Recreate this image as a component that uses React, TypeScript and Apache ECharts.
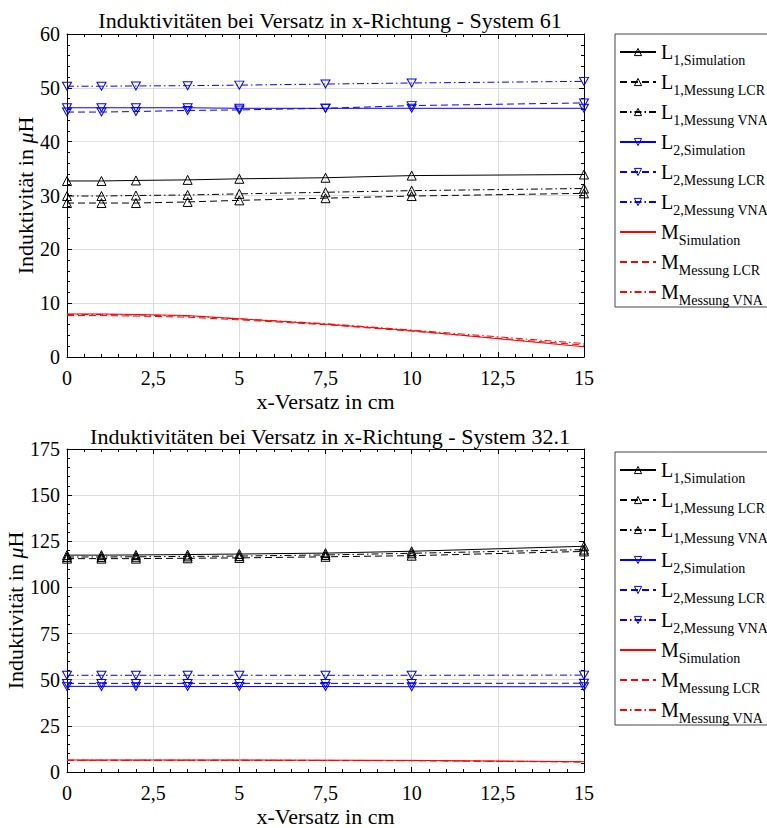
import React, { useEffect, useRef } from "react";
import * as echarts from "echarts";

const xs = [0, 1, 2, 3.5, 5, 7.5, 10, 15];
const xTicks = [0, 2.5, 5, 7.5, 10, 12.5, 15];

// System 61
const L1Sim61 = [32.7, 32.7, 32.8, 32.9, 33.1, 33.3, 33.7, 33.9];
const L1LCR61 = [28.6, 28.6, 28.6, 28.8, 29.1, 29.5, 29.9, 30.4];
const L1VNA61 = [29.9, 29.9, 30.0, 30.1, 30.3, 30.6, 30.9, 31.3];
const L2Sim61 = [46.3, 46.3, 46.3, 46.3, 46.2, 46.2, 46.2, 46.2];
const L2LCR61 = [45.5, 45.5, 45.6, 45.8, 45.9, 46.2, 46.7, 47.2];
const L2VNA61 = [50.3, 50.3, 50.35, 50.4, 50.5, 50.7, 50.9, 51.2];
const MSim61 = [8.0, 8.0, 7.9, 7.7, 7.1, 6.1, 4.9, 1.9];
const MLCR61 = [7.7, 7.7, 7.6, 7.4, 6.9, 6.0, 4.8, 2.2];
const MVNA61 = [7.9, 7.9, 7.8, 7.6, 7.1, 6.2, 5.0, 2.5];

// System 32.1
const L1Sim32 = [117.5, 117.5, 117.6, 117.8, 118.1, 118.6, 119.6, 122.3];
const L1LCR32 = [115.6, 115.6, 115.6, 115.8, 116.0, 116.6, 117.2, 119.5];
const L1VNA32 = [116.5, 116.5, 116.6, 116.8, 117.0, 117.6, 118.5, 120.5];
const L2Sim32 = [46.4, 46.4, 46.4, 46.3, 46.3, 46.3, 46.2, 46.2];
const L2LCR32 = [48.0, 48.0, 48.0, 48.0, 48.0, 48.0, 48.0, 48.1];
const L2VNA32 = [52.4, 52.4, 52.4, 52.4, 52.4, 52.4, 52.4, 52.5];
const MSim32 = [6.5, 6.5, 6.5, 6.5, 6.5, 6.4, 6.3, 5.6];
const MLCR32 = [6.3, 6.3, 6.3, 6.3, 6.3, 6.2, 6.1, 5.4];
const MVNA32 = [6.4, 6.4, 6.4, 6.4, 6.4, 6.3, 6.2, 5.5];

const legendMain = ["L", "L", "L", "L", "L", "L", "M", "M", "M"];
const legendSub = [
  "1,Simulation",
  "1,Messung LCR",
  "1,Messung VNA",
  "2,Simulation",
  "2,Messung LCR",
  "2,Messung VNA",
  "Simulation",
  "Messung LCR",
  "Messung VNA",
];
const titles = [
  "Induktivitäten bei Versatz in x-Richtung - System 61",
  "Induktivitäten bei Versatz in x-Richtung - System 32.1",
];

const FONT = "'Liberation Serif', 'Times New Roman', Times, serif";
const BLACK = "#000000";
const BLUE = "#0000ff";
const RED = "#ff0000";
const CLEAR = "rgba(0,0,0,0)";
const DASH = [7, 4];
const DASHDOT = [7, 3, 1.5, 3];
const DOWN_TRI = "path://M0,0L10,0L5,9Z";

const seriesNames = legendMain.map((m, i) => m + legendSub[i]);
const colors = [BLACK, BLACK, BLACK, BLUE, BLUE, BLUE, RED, RED, RED];
const types: any[] = ["solid", DASH, DASHDOT, "solid", DASH, DASHDOT, "solid", DASH, DASHDOT];
const symbols = ["triangle", "triangle", "triangle", DOWN_TRI, DOWN_TRI, DOWN_TRI, "none", "none", "none"];

const data61 = [L1Sim61, L1LCR61, L1VNA61, L2Sim61, L2LCR61, L2VNA61, MSim61, MLCR61, MVNA61];
const data32 = [L1Sim32, L1LCR32, L1VNA32, L2Sim32, L2LCR32, L2VNA32, MSim32, MLCR32, MVNA32];

export default function App() {
  const ref = useRef<HTMLDivElement>(null);
  useEffect(() => {
    document.body.style.margin = "0";
    if (!ref.current) return;
    const chart = echarts.init(ref.current, undefined, { renderer: "svg" });

    const grids = [
      { left: 67, width: 517, top: 34, height: 323, outerBoundsMode: "none", containLabel: false },
      { left: 67, width: 517, top: 449, height: 323, outerBoundsMode: "none", containLabel: false },
    ];
    const yMax = [60, 175];
    const yInt = [10, 25];
    const yNameGap = [31, 41];

    const xAxes: any[] = [];
    const yAxes: any[] = [];
    grids.forEach((g, gi) => {
      const base = {
        gridIndex: gi,
        type: "value",
        min: 0,
        max: 15,
        interval: 2.5,
        axisLine: { show: true, onZero: false, lineStyle: { color: BLACK, width: 1 } },
        axisTick: { show: true, inside: true, length: 5, lineStyle: { color: BLACK } },
        minorTick: { show: true, splitNumber: 5, length: 3, lineStyle: { color: BLACK } },
      };
      xAxes.push({
        ...base,
        position: "bottom",
        name: "x-Versatz in cm",
        nameLocation: "middle",
        nameGap: 33,
        nameMoveOverlap: false,
        nameTextStyle: { fontFamily: FONT, fontSize: 22, color: BLACK },
        axisLabel: {
          fontFamily: FONT,
          fontSize: 20,
          color: BLACK,
          margin: 11,
          formatter: (v: number) => (xTicks.includes(v) ? String(v).replace(".", ",") : ""),
        },
        splitLine: { show: true, lineStyle: { color: "#dddddd", width: 1 } },
      });
      xAxes.push({
        ...base,
        position: "top",
        axisLabel: { show: false },
        splitLine: { show: false },
      });
      const ybase = {
        gridIndex: gi,
        type: "value",
        min: 0,
        max: yMax[gi],
        interval: yInt[gi],
        axisLine: { show: true, onZero: false, lineStyle: { color: BLACK, width: 1 } },
        axisTick: { show: true, inside: true, length: 5, lineStyle: { color: BLACK } },
        minorTick: { show: true, splitNumber: 5, length: 3, lineStyle: { color: BLACK } },
      };
      yAxes.push({
        ...ybase,
        position: "left",
        name: "Induktivität in {i|μ}H",
        nameLocation: "middle",
        nameGap: yNameGap[gi],
        nameMoveOverlap: false,
        nameTextStyle: {
          fontFamily: FONT,
          fontSize: 22,
          color: BLACK,
          rich: { i: { fontFamily: FONT, fontSize: 22, fontStyle: "italic", color: BLACK } },
        },
        axisLabel: { fontFamily: FONT, fontSize: 20, color: BLACK, margin: 7 },
        splitLine: { show: true, lineStyle: { color: "#dddddd", width: 1 } },
      });
      yAxes.push({
        ...ybase,
        position: "right",
        axisLabel: { show: false },
        splitLine: { show: false },
      });
    });

    const series: any[] = [];
    [data61, data32].forEach((set, gi) => {
      set.forEach((vals, i) => {
        const sym = symbols[i];
        series.push({
          type: "line",
          name: seriesNames[i],
          xAxisIndex: gi * 2,
          yAxisIndex: gi * 2,
          data: xs.map((x, k) => [x, vals[k]]),
          color: colors[i],
          symbol: sym,
          showSymbol: sym !== "none",
          symbolSize: sym === "triangle" ? 9 : [9, 8],
          lineStyle: { color: colors[i], width: 1, type: types[i] },
          itemStyle: { color: "rgba(255,255,255,0)", borderColor: colors[i], borderWidth: 1 },
          emphasis: { disabled: true },
          z: 10 - i,
        });
      });
    });

    const legendData = seriesNames.map((n, i) => ({
      name: n,
      itemStyle:
        symbols[i] === "none"
          ? { color: CLEAR, borderColor: CLEAR, borderWidth: 0 }
          : { color: CLEAR, borderColor: colors[i], borderWidth: 1 },
    }));

    const legendCommon = {
      orient: "vertical",
      left: 615,
      data: legendData,
      itemWidth: 36,
      itemHeight: 9,
      itemGap: 0,
      padding: [3, 20, 0, 4],
      borderColor: "#444",
      borderWidth: 1,
      selectedMode: false,
      textStyle: {
        fontFamily: FONT,
        color: BLACK,
        rich: {
          m: { fontFamily: FONT, fontSize: 20, lineHeight: 20, color: BLACK },
          s: { fontFamily: FONT, fontSize: 14, lineHeight: 14, color: BLACK, padding: [16, 0, 0, 0] },
        },
      },
      formatter: (name: string) => {
        const i = seriesNames.indexOf(name);
        return `{m|${legendMain[i]}}{s|${legendSub[i]}}`;
      },
    };

    chart.setOption({
      animation: false,
      backgroundColor: "#ffffff",
      textStyle: { fontFamily: FONT },
      title: [
        {
          text: titles[0],
          left: 325,
          textAlign: "center",
          top: 4,
          textStyle: { fontFamily: FONT, fontSize: 22, fontWeight: "normal", color: BLACK },
        },
        {
          text: titles[1],
          left: 325,
          textAlign: "center",
          top: 420,
          textStyle: { fontFamily: FONT, fontSize: 22, fontWeight: "normal", color: BLACK },
        },
      ],
      legend: [
        { ...legendCommon, top: 34 },
        { ...legendCommon, top: 452 },
      ],
      grid: grids,
      xAxis: xAxes,
      yAxis: yAxes,
      series,
    });
    return () => chart.dispose();
  }, []);
  return <div ref={ref} style={{ width: 767, height: 828 }} />;
}
